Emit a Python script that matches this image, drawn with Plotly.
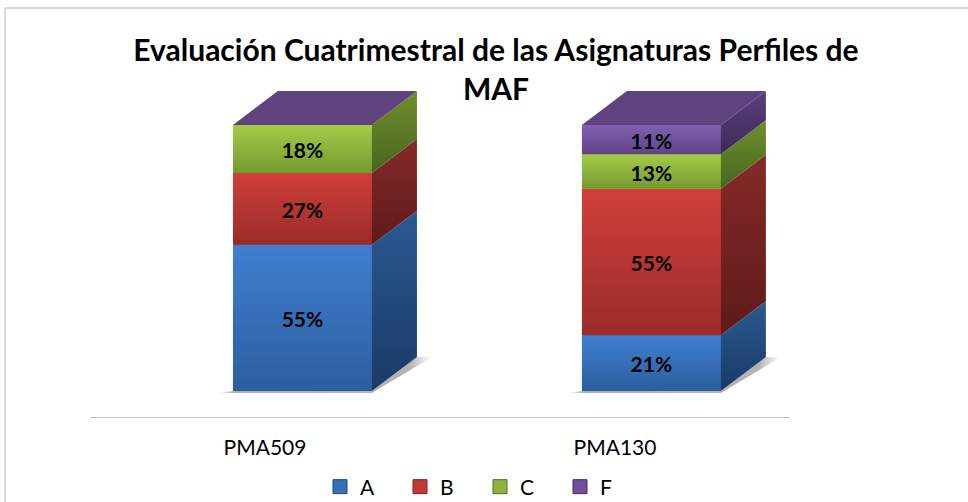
import plotly.graph_objects as go

categories = ["PMA509", "PMA130"]
series_names = ["A", "B", "C", "F"]
values_a = [55, 21]
values_b = [27, 55]
values_c = [18, 13]
values_f = [0, 11]
all_values = [values_a, values_b, values_c, values_f]

front_cols = [("#3f7fd0", "#2c5e9e"), ("#d03f3a", "#992b2a"), ("#a4cc48", "#76992f"), ("#8060b0", "#5f4488")]
side_cols = [("#2a5a92", "#1a3a66"), ("#862a28", "#5e1a1a"), ("#6f8f2c", "#48651f"), ("#5a3f80", "#3c2a58")]
legend_cols = ["#3a6fb5", "#c03a38", "#8fb23a", "#6f4f9c"]
legend_edges = ["#234a7c", "#7c2422", "#55701f", "#44305f"]
top_col = "#5f437f"

W, H = 968, 502
L, R, T, B = 90, 790, 60, 417
PX_X = 350.0
PX_Y = 2.66
floor_px = 391
y_lo = -(B - floor_px) / PX_Y
y_hi = (floor_px - T) / PX_Y
bar_w = 139 / PX_X
dx = 45 / PX_X
dy = 34 / PX_Y
bar_x = [0.107, 1.104]
tick_x = [0, 1]

fig = go.Figure()


def poly(xs, ys, c0, c1, kind="vertical"):
    # colorscale position 0 = low y, 1 = high y
    return go.Scatter(
        x=xs + xs[:1], y=ys + ys[:1], mode="lines", line=dict(width=0),
        fill="toself", hoverinfo="skip", showlegend=False,
        fillgradient=dict(type=kind, colorscale=[[0, c1], [1, c0]]),
    )


# coloured stacked bars (front faces)
for name, vals, cols in zip(series_names, all_values, front_cols):
    fig.add_trace(go.Bar(x=bar_x, y=vals, name=name, width=bar_w, marker=dict(color=cols[0], line_width=0),
                         showlegend=False, hoverinfo="skip"))

for i, cx in enumerate(bar_x):
    x0, x1 = cx - bar_w / 2, cx + bar_w / 2
    # floor shadow
    sx, sy = 15 / PX_X, 2 / PX_Y
    fig.add_trace(go.Scatter(
        x=[x0 - sx, x1, x1 + dx + sx, x1 + dx, x1, x0, x0 - sx],
        y=[-sy, -sy, dy + 0, dy + 0, 0, 0, -sy],
        mode="lines", line=dict(width=0), fill="toself", hoverinfo="skip", showlegend=False,
        fillgradient=dict(type="horizontal", colorscale=[[0, "rgba(120,120,120,0)"], [0.08, "rgba(120,120,120,0.6)"],
                                                         [0.9, "rgba(130,130,130,0.6)"], [1, "rgba(150,150,150,0)"]]),
    ))
    base = 0
    for vals, fc, sc in zip(all_values, front_cols, side_cols):
        v = vals[i]
        if v > 0:
            fig.add_trace(poly([x0, x1, x1, x0], [base, base, base + v, base + v], fc[0], fc[1]))
            fig.add_trace(poly([x1, x1 + dx, x1 + dx, x1], [base, base + dy, base + v + dy, base + v], sc[0], sc[1]))
        base += v
    fig.add_trace(go.Scatter(x=[x0, x1, x1 + dx, x0 + dx, x0], y=[base, base, base + dy, base + dy, base],
                             mode="lines", line=dict(width=0), fill="toself", fillcolor=top_col,
                             hoverinfo="skip", showlegend=False))

# data labels
lx, ly, lt = [], [], []
for i, cx in enumerate(bar_x):
    base = 0
    for vals in all_values:
        v = vals[i]
        if v > 0:
            lx.append(cx)
            ly.append(base + v / 2 - 1.5)
            lt.append(f"<b>{v}%</b>")
        base += v
fig.add_trace(go.Scatter(x=lx, y=ly, text=lt, mode="text", textposition="middle center",
                         textfont=dict(family="Lato", size=21, color="#000000"),
                         hoverinfo="skip", showlegend=False))

# legend entries
for name, c, e in zip(series_names, legend_cols, legend_edges):
    fig.add_trace(go.Scatter(x=[None], y=[None], mode="markers", name=name,
                             marker=dict(symbol="square", size=14, color=c, line=dict(color=e, width=1))))

px_x = lambda p: (p - L) / (R - L)
px_y = lambda p: (B - p) / (B - T)
frame = dict(type="line", xref="paper", yref="paper", line=dict(color="#d9d9d9", width=2))
fig.add_shape(x0=px_x(5), x1=px_x(5), y0=px_y(8), y1=px_y(H), **frame)
fig.add_shape(x0=px_x(5), x1=px_x(W), y0=px_y(8), y1=px_y(8), **frame)

fig.update_layout(
    width=W, height=H, autosize=False, barmode="stack", bargap=0,
    margin=dict(l=L, r=W - R, t=T, b=H - B, autoexpand=False),
    paper_bgcolor="white", plot_bgcolor="white",
    font=dict(family="Lato", size=20, color="#000000"),
    title=dict(text="<b>Evaluación Cuatrimestral de las Asignaturas Perfiles de<br>MAF</b>",
               x=496 / W, xanchor="center", y=1 - 61 / H, yanchor="top",
               font=dict(family="Lato", size=30, color="#000000")),
    xaxis=dict(range=[-0.5, 1.5], tickmode="array", tickvals=tick_x, ticktext=categories, ticks="",
               showgrid=False, zeroline=False, showline=True, linecolor="#bfbfbf", linewidth=1,
               tickfont=dict(size=21), ticklabelstandoff=12),
    yaxis=dict(range=[y_lo, y_hi], visible=False, showgrid=False, zeroline=False),
    legend=dict(orientation="h", x=px_x(480), xanchor="center", y=px_y(487), yanchor="middle",
                bgcolor="rgba(0,0,0,0)", font=dict(size=21), entrywidth=35, entrywidthmode="pixels",
                traceorder="normal", itemclick=False, itemdoubleclick=False),
)
fig.write_html("out.html", config=dict(displayModeBar=False),
               post_script="document.body.style.margin='0';document.documentElement.style.overflow='hidden';")
